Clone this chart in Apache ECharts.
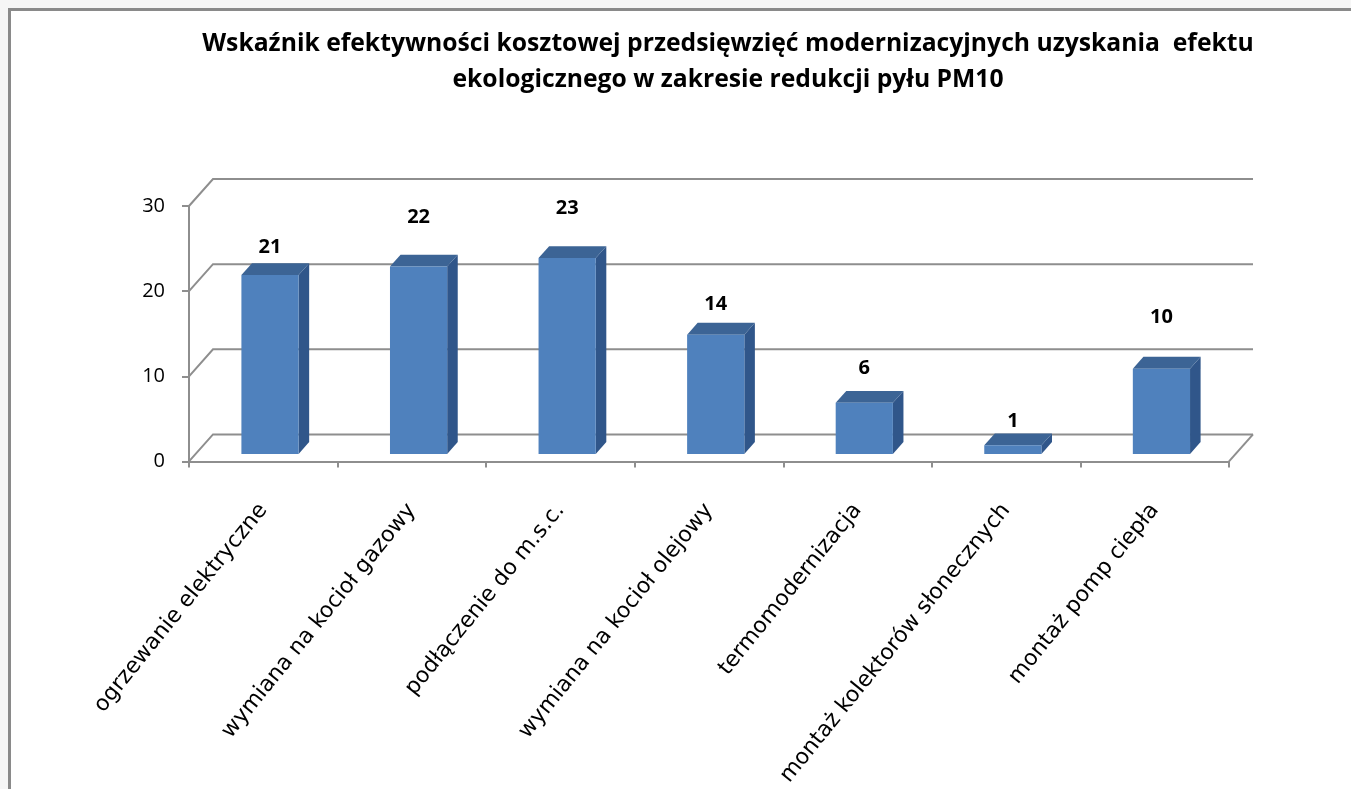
<!DOCTYPE html>
<html>
<head>
<meta charset="utf-8">
<script src="https://cdn.jsdelivr.net/npm/echarts@6/dist/echarts.min.js"></script>
<style>
  html, body { margin: 0; padding: 0; background: #f6f6f6; }
  #frame {
    position: absolute; left: 8px; top: 8px; right: 0; bottom: 0;
    background: #fff; border-left: 3px solid #8a8a8a; border-top: 3px solid #8a8a8a;
  }
  #chart { position: absolute; left: 0; top: 0; width: 1351px; height: 789px; }
</style>
</head>
<body>
<div id="frame"></div>
<div id="chart"></div>
<script>
// dane
const categories = [
  'ogrzewanie elektryczne',
  'wymiana na kocioł gazowy',
  'podłączenie do m.s.c.',
  'wymiana na kocioł olejowy',
  'termomodernizacja',
  'montaż kolektorów słonecznych',
  'montaż pomp ciepła'
];
const values = [21, 22, 23, 14, 6, 1, 10];
const yTicks = [0, 10, 20, 30];

// odstęp etykiety nad słupkiem (tak jak w Excelu, nierówno)
const labelGap = [16, 37, 38, 18, 23, 12, 40];

// wektor głębi "3D"
const DX = 24, DY = -27;
const gridColor = '#8e8e8e';

const chart = echarts.init(document.getElementById('chart'));

chart.setOption({
  animation: false,
  title: {
    text: 'Wskaźnik efektywności kosztowej przedsięwzięć modernizacyjnych uzyskania  efektu\nekologicznego w zakresie redukcji pyłu PM10',
    left: 728,
    top: 26,
    padding: 0,
    textAlign: 'center',
    textStyle: {
      fontFamily: 'Open Sans',
      fontWeight: 'bold',
      fontSize: 24.7,
      lineHeight: 36,
      color: '#000'
    }
  },
  grid: { left: 189, right: 122, top: 206, bottom: 327 },
  xAxis: {
    type: 'category',
    data: categories,
    axisLine: { lineStyle: { color: gridColor, width: 2 } },
    axisTick: { show: true, interval: 0, length: 6, lineStyle: { color: gridColor, width: 2 } },
    axisLabel: {
      interval: 0,
      rotate: 51,
      margin: 45,
      fontFamily: 'DejaVu Sans',
      fontSize: 22,
      color: '#000'
    }
  },
  yAxis: {
    type: 'value',
    min: 0,
    max: 30,
    interval: 10,
    axisLine: { show: true, lineStyle: { color: gridColor, width: 2 } },
    axisTick: { show: true, length: 7, lineStyle: { color: gridColor, width: 2 } },
    splitLine: { show: false },
    axisLabel: { margin: 24, fontFamily: 'Open Sans', fontSize: 20, color: '#000' }
  },
  series: [
    {
      // tylna ściana z liniami siatki
      type: 'custom',
      silent: true,
      z: 1,
      data: yTicks.map(v => [0, v]),
      renderItem: function (params, api) {
        const cs = params.coordSys;
        const y = api.coord([0, api.value(1)])[1];
        const x0 = cs.x, x1 = cs.x + cs.width;
        const children = [{
          type: 'polyline',
          shape: { points: [[x0, y], [x0 + DX, y + DY], [x1 + DX, y + DY]] },
          style: { stroke: gridColor, lineWidth: 2, fill: null }
        }];
        if (api.value(1) === 0) {
          children.push({
            type: 'line',
            shape: { x1: x1, y1: y, x2: x1 + DX, y2: y + DY },
            style: { stroke: gridColor, lineWidth: 2 }
          });
        }
        return { type: 'group', children: children };
      }
    },
    {
      // słupki 3D
      type: 'custom',
      z: 3,
      data: values.map((v, i) => [i, v]),
      renderItem: function (params, api) {
        const i = api.value(0);
        const v = api.value(1);
        const base = api.coord([i, 0]);
        const top = api.coord([i, v]);
        const w = api.size([1, 0])[0] * 0.385;
        const fx = DX * 0.28, fy = DY * 0.28;
        const sx = DX * 0.44, sy = DY * 0.44;
        const xl = base[0] - w / 2 + fx, xr = xl + w;
        const yb = base[1] + fy, yt = top[1] + fy;
        return {
          type: 'group',
          children: [
            {
              type: 'polygon',
              shape: { points: [[xr, yt], [xr + sx, yt + sy], [xr + sx, yb + sy], [xr, yb]] },
              style: { fill: '#30568a' }
            },
            {
              type: 'polygon',
              shape: { points: [[xl, yt], [xr, yt], [xr + sx, yt + sy], [xl + sx, yt + sy]] },
              style: { fill: '#3c6495' }
            },
            {
              type: 'rect',
              shape: { x: xl, y: yt, width: w, height: yb - yt },
              style: { fill: '#4f81bd' }
            },
            {
              type: 'text',
              x: (xl + xr) / 2,
              y: yt + sy - labelGap[params.dataIndex],
              style: {
                text: String(v),
                align: 'center',
                verticalAlign: 'middle',
                fontFamily: 'Open Sans',
                fontWeight: 'bold',
                fontSize: 20,
                fill: '#000'
              }
            }
          ]
        };
      }
    }
  ]
});
</script>
</body>
</html>
